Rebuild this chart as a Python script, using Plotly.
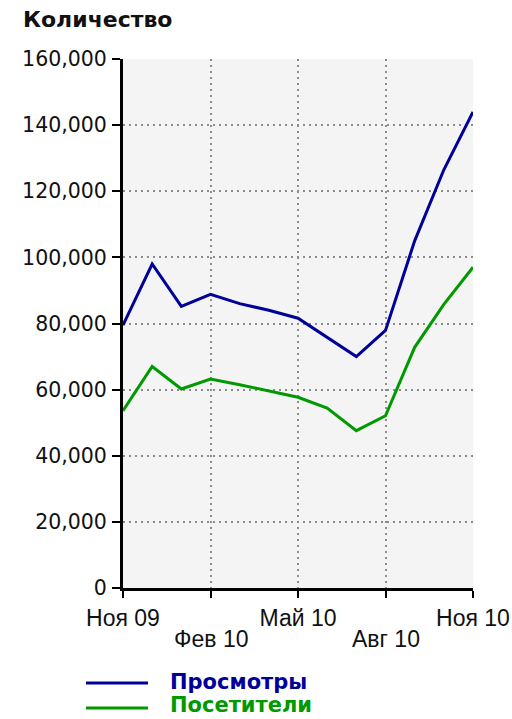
import plotly.graph_objects as go

months = ["Ноя 09", "Дек 09", "Янв 10", "Фев 10", "Мар 10", "Апр 10", "Май 10",
          "Июн 10", "Июл 10", "Авг 10", "Сен 10", "Окт 10", "Ноя 10"]
views = [79500, 98000, 85200, 88800, 86000, 84000, 81600, 75800, 70000, 77900, 105000, 126500, 144000]
visitors = [53600, 67000, 60200, 63200, 61500, 59700, 57700, 54400, 47600, 52100, 72800, 85800, 97000]

tick_months = ["Ноя 09", "Фев 10", "Май 10", "Авг 10", "Ноя 10"]
tick_text_top = ["Ноя 09", "", "Май 10", "", "Ноя 10"]
tick_text_low = {"Фев 10": "Фев 10", "Авг 10": "Авг 10"}
y_ticks = [0, 20000, 40000, 60000, 80000, 100000, 120000, 140000, 160000]

blue = "#000099"
green = "#009900"

W, H = 512, 719
L, T, PW, PH = 123, 59, 350, 529

def px(xp):  # page x -> paper
    return (xp - L) / PW

def py(yp):  # page y -> paper
    return (T + PH - yp) / PH

fig = go.Figure()
fig.add_trace(go.Scatter(x=months, y=views, mode="lines", name="Просмотры",
                         line=dict(color=blue, width=3)))
fig.add_trace(go.Scatter(x=months, y=visitors, mode="lines", name="Посетители",
                         line=dict(color=green, width=3)))

grid = dict(showgrid=True, gridcolor="#8c8c8c", gridwidth=1.5, griddash="1.5px,4.5px")

fig.update_layout(
    width=W, height=H,
    margin=dict(l=L, r=W - L - PW, t=T, b=H - T - PH, pad=0, autoexpand=False),
    paper_bgcolor="white",
    plot_bgcolor="#f4f4f4",
    showlegend=False,
    font=dict(family="Liberation Sans, Arial, sans-serif", size=23, color="#111"),
    xaxis=dict(type="category", range=[0, 12], tickmode="array",
               tickvals=tick_months, ticktext=tick_text_top, automargin=False,
               showline=True, linecolor="black", linewidth=3,
               ticks="outside", ticklen=7, tickwidth=2, tickcolor="black",
               zeroline=False, **grid),
    yaxis=dict(range=[0, 160000], tickmode="array", tickvals=y_ticks,
               tickformat=",d", automargin=False,
               tickfont=dict(family="DejaVu Sans, sans-serif", size=20.5, color="#111"),
               ticklabelstandoff=1,
               showline=True, linecolor="black", linewidth=3,
               ticks="outside", ticklen=8, tickwidth=2, tickcolor="black",
               zeroline=False, **grid),
)

for m, label in tick_text_low.items():
    fig.add_annotation(text=label, x=m, xref="x", yref="paper", y=py(639),
                       xanchor="center", yanchor="middle", showarrow=False,
                       font=dict(size=23, color="#111"))

fig.add_annotation(text="<b>Количество</b>", xref="paper", yref="paper",
                   x=px(21), y=py(20), xanchor="left", yanchor="middle",
                   showarrow=False,
                   font=dict(family="DejaVu Sans, sans-serif", size=22, color="#111"))

legend_items = [("Просмотры", blue, 683, 682), ("Посетители", green, 708, 705)]
for name, color, yline, ytext in legend_items:
    fig.add_shape(type="line", xref="paper", yref="paper",
                  x0=px(86), x1=px(148), y0=py(yline), y1=py(yline),
                  line=dict(color=color, width=3))
    fig.add_annotation(text=f"<b>{name}</b>", xref="paper", yref="paper",
                       x=px(168), y=py(ytext), xanchor="left", yanchor="middle",
                       showarrow=False,
                       font=dict(family="DejaVu Sans, sans-serif", size=21, color=color))

fig.write_html(
    "out.html",
    config={"displayModeBar": False},
    post_script="document.body.style.margin='0';document.body.style.overflow='hidden';",
)
